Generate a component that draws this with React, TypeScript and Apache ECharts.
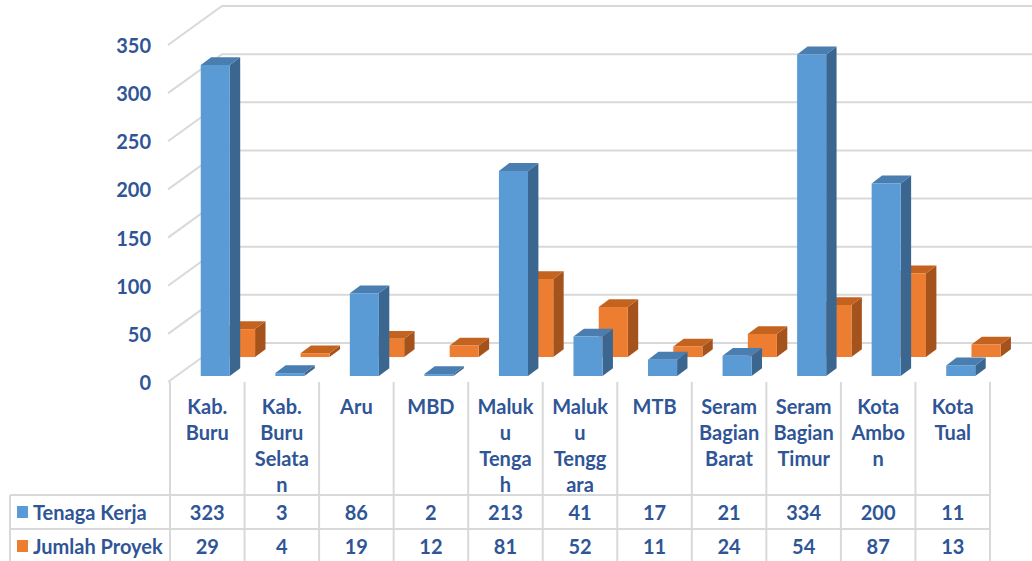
import React, { useEffect, useRef } from "react";
import * as echarts from "echarts";

// ---- data ----
const categories = [
  "Kab.\nBuru",
  "Kab.\nBuru\nSelata\nn",
  "Aru",
  "MBD",
  "Maluk\nu\nTenga\nh",
  "Maluk\nu\nTengg\nara",
  "MTB",
  "Seram\nBagian\nBarat",
  "Seram\nBagian\nTimur",
  "Kota\nAmbo\nn",
  "Kota\nTual",
];
const seriesNames = ["Tenaga Kerja", "Jumlah Proyek"];
const tenagaKerja = [323, 3, 86, 2, 213, 41, 17, 21, 334, 200, 11];
const jumlahProyek = [29, 4, 19, 12, 81, 52, 11, 24, 54, 87, 13];
const yTicks = [0, 50, 100, 150, 200, 250, 300, 350];

// ---- styles / layout ----
const W = 1032;
const H = 561;
const TEXT = "#2F5597";
const LINE = "#D9D9D9";
const FONT = "Lato";
const FS = 20;
const DX = 52;
const DY = -39;
const GRID_LEFT = 170;
const GRID_RIGHT = 42;
const GRID_TOP = 45;
const GRID_BOTTOM = 179;
const ROW1_Y = 512;
const ROW2_Y = 546;
const HLINE1 = 495;
const HLINE2 = 529;
const TABLE_LEFT = 10;

const blueColors = { front: "#5B9BD5", side: "#3B6690", top: "#4A7DB0" };
const orangeColors = { front: "#ED7D31", side: "#A5531D", top: "#C4631F" };

const makeBar = (d0: number, colors: { front: string; side: string; top: string }) =>
  (params: any, api: any) => {
    const cat = api.value(0);
    const v = api.value(1);
    const b = api.coord([cat, 0]);
    const t = api.coord([cat, v]);
    const band = api.size([1, 0])[0];
    const w = band * 0.39;
    const l = b[0] - w / 2 + DX * d0;
    const r = l + w;
    const yb = b[1] + DY * d0;
    const yt = t[1] + DY * d0;
    const tx = DX * 0.2;
    const ty = DY * 0.2;
    return {
      type: "group",
      children: [
        { type: "polygon", shape: { points: [[r, yt], [r + tx, yt + ty], [r + tx, yb + ty], [r, yb]] }, style: { fill: colors.side } },
        { type: "polygon", shape: { points: [[l, yt], [r, yt], [r + tx, yt + ty], [l + tx, yt + ty]] }, style: { fill: colors.top } },
        { type: "polygon", shape: { points: [[l, yt], [r, yt], [r, yb], [l, yb]] }, style: { fill: colors.front } },
      ],
    };
  };

const textStyle = (text: string, x: number, y: number, align: string) => ({
  text,
  x,
  y,
  align,
  verticalAlign: "middle",
  fill: TEXT,
  fontSize: FS,
  fontWeight: "bold",
  fontFamily: FONT,
});

export default function App() {
  const ref = useRef<HTMLDivElement>(null);
  useEffect(() => {
    if (!ref.current) return;
    const chart = echarts.init(ref.current, null, { renderer: "svg" });
    const rightEdge = W - GRID_RIGHT;
    const option: any = {
      animation: false,
      backgroundColor: "#FFFFFF",
      grid: { left: GRID_LEFT, right: GRID_RIGHT, top: GRID_TOP, bottom: GRID_BOTTOM },
      xAxis: {
        type: "category",
        data: categories,
        axisLine: { show: false },
        axisTick: { show: false },
        axisLabel: {
          interval: 0,
          margin: 11,
          color: TEXT,
          fontSize: FS,
          lineHeight: 26,
          fontWeight: "bold",
          fontFamily: FONT,
        },
      },
      yAxis: {
        type: "value",
        min: 0,
        max: 350,
        interval: 50,
        axisLine: { show: false },
        axisTick: { show: false },
        splitLine: { show: false },
        axisLabel: {
          margin: 19,
          color: TEXT,
          fontSize: FS,
          fontWeight: "bold",
          fontFamily: FONT,
        },
      },
      graphic: [
        { type: "line", shape: { x1: TABLE_LEFT, y1: HLINE1, x2: rightEdge, y2: HLINE1 }, style: { stroke: LINE, lineWidth: 2 } },
        { type: "line", shape: { x1: TABLE_LEFT, y1: HLINE2, x2: rightEdge, y2: HLINE2 }, style: { stroke: LINE, lineWidth: 2 } },
        { type: "line", shape: { x1: TABLE_LEFT, y1: HLINE1, x2: TABLE_LEFT, y2: H }, style: { stroke: LINE, lineWidth: 2 } },
        { type: "rect", shape: { x: 17, y: ROW1_Y - 6, width: 11, height: 12 }, style: { fill: blueColors.front } },
        { type: "rect", shape: { x: 17, y: ROW2_Y - 6, width: 11, height: 12 }, style: { fill: orangeColors.front } },
        { type: "text", style: textStyle(seriesNames[0], 33, ROW1_Y, "left") },
        { type: "text", style: textStyle(seriesNames[1], 33, ROW2_Y, "left") },
      ],
      series: [
        {
          type: "custom",
          name: "walls",
          z: 1,
          silent: true,
          data: yTicks.map((v) => [0, v]),
          encode: { x: 0, y: 1 },
          renderItem: (params: any, api: any) => {
            const cs = params.coordSys;
            const y = api.coord([0, api.value(1)])[1];
            const x0 = cs.x;
            return {
              type: "polyline",
              shape: { points: [[x0 - 2, y], [x0 + DX, y + DY], [x0 + cs.width + DX, y + DY]] },
              style: { stroke: LINE, lineWidth: 2, fill: null },
            };
          },
        },
        {
          type: "custom",
          name: "table",
          z: 2,
          silent: true,
          data: categories.map((_, i) => [i, 0]),
          encode: { x: 0, y: 1 },
          renderItem: (params: any, api: any) => {
            const i = params.dataIndex;
            const c = api.coord([i, 0]);
            const band = api.size([1, 0])[0];
            const xl = c[0] - band / 2;
            const children: any[] = [
              { type: "line", shape: { x1: xl, y1: c[1], x2: xl, y2: H }, style: { stroke: LINE, lineWidth: 2 } },
              { type: "text", style: textStyle(String(tenagaKerja[i]), c[0], ROW1_Y, "center") },
              { type: "text", style: textStyle(String(jumlahProyek[i]), c[0], ROW2_Y, "center") },
            ];
            if (i === categories.length - 1) {
              children.push({ type: "line", shape: { x1: xl + band, y1: c[1], x2: xl + band, y2: H }, style: { stroke: LINE, lineWidth: 2 } });
            }
            return { type: "group", children };
          },
        },
        {
          type: "custom",
          name: seriesNames[1],
          z: 3,
          data: jumlahProyek.map((v, i) => [i, v]),
          encode: { x: 0, y: 1 },
          renderItem: makeBar(0.64, orangeColors),
        },
        {
          type: "custom",
          name: seriesNames[0],
          z: 4,
          data: tenagaKerja.map((v, i) => [i, v]),
          encode: { x: 0, y: 1 },
          renderItem: makeBar(0.154, blueColors),
        },
      ],
    };
    chart.setOption(option);
    return () => chart.dispose();
  }, []);
  return (
    <div
      ref={ref}
      style={{ position: "absolute", left: 0, top: 0, width: W, height: H, background: "#fff" }}
    />
  );
}
